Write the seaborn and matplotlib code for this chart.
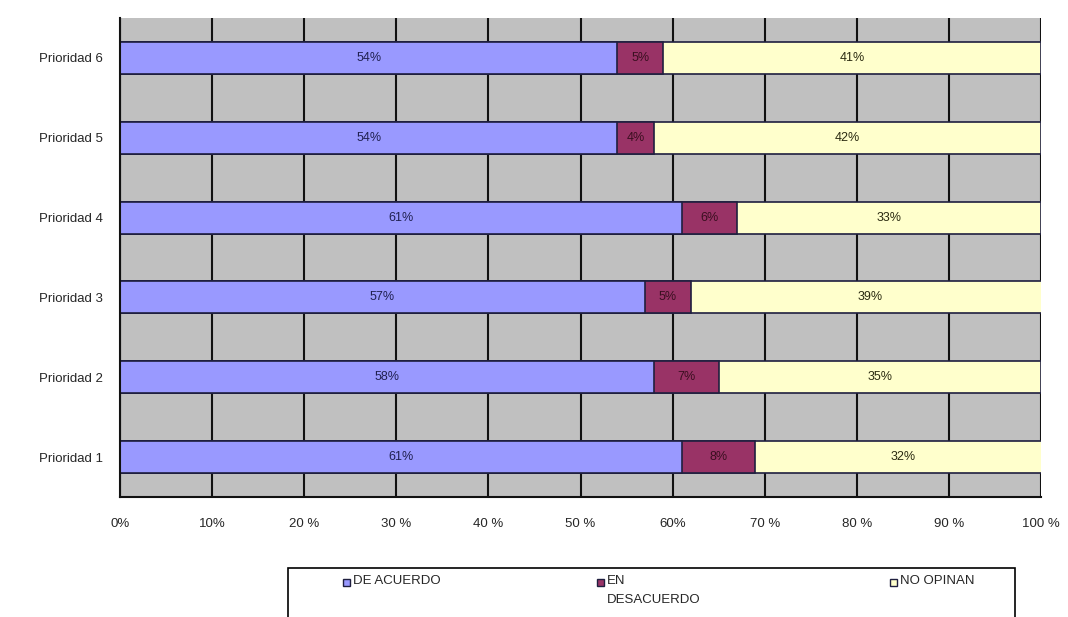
import numpy as np
import pandas as pd
import matplotlib
matplotlib.use("Agg")
import matplotlib.pyplot as plt
import seaborn as sns
from matplotlib.patches import Rectangle

# Data
categories = ["Prioridad 6", "Prioridad 5", "Prioridad 4", "Prioridad 3", "Prioridad 2", "Prioridad 1"]
de_acuerdo = [54, 54, 61, 57, 58, 61]
en_desacuerdo = [5, 4, 6, 5, 7, 8]
no_opinan = [41, 42, 33, 39, 35, 32]
xtick_labels = ["0%", "10%", "20 %", "30 %", "40 %", "50 %", "60%", "70 %", "80 %", "90 %", "100 %"]
legend_labels = ["DE ACUERDO", "EN\nDESACUERDO", "NO OPINAN"]

df = pd.DataFrame({
    "cat": categories,
    "acuerdo": de_acuerdo,
    "desacuerdo": en_desacuerdo,
    "noop": no_opinan,
})
df["cum2"] = df["acuerdo"] + df["desacuerdo"]
df["cum3"] = df["cum2"] + df["noop"]

sns.set_style("white")
plt.rcParams["font.family"] = ["Liberation Sans", "DejaVu Sans"]

c_blue = "#9999ff"
c_red = "#993366"
c_yellow = "#ffffcc"
edge = "#1f1f3f"

W, H = 1068, 617
fig = plt.figure(figsize=(W / 100, H / 100), dpi=100)
ax = fig.add_axes([120 / W, 1 - 497 / H, (1041 - 120) / W, (497 - 18) / H])
ax.set_facecolor("#c0c0c0")

# stacked bars by layering cumulative totals
for col, color in [("cum3", c_yellow), ("cum2", c_red), ("acuerdo", c_blue)]:
    sns.barplot(data=df, x=col, y="cat", order=categories, color=color, orient="h",
                width=0.4, edgecolor=edge, linewidth=1.2, saturation=1, ax=ax)

# segment labels
for i, row in df.iterrows():
    ax.text(row["acuerdo"] / 2, i, f"{row['acuerdo']}%", ha="center", va="center",
            fontsize=9, color="#202050")
    ax.text(row["acuerdo"] + row["desacuerdo"] / 2, i, f"{row['desacuerdo']}%", ha="center",
            va="center", fontsize=9, color="#3a0f20")
    ax.text(row["cum2"] + row["noop"] / 2, i, f"{row['noop']}%", ha="center", va="center",
            fontsize=9, color="#2a2a10")

ax.set_xlim(0, 100)
ax.set_ylim(5.46, -0.46)
ax.set_xticks(np.arange(0, 101, 10))
ax.set_xticklabels(xtick_labels, fontsize=9.5)
ax.set_xlabel("")
ax.set_ylabel("")
ax.tick_params(axis="y", length=0, labelsize=9.5, pad=12)
ax.set_yticks(np.arange(-0.5, 6, 1), minor=True)
ax.tick_params(axis="y", which="minor", length=5, width=1.2, color="black", direction="out")
ax.tick_params(axis="x", length=5, width=1.2, color="black", direction="out", pad=10)

ax.set_axisbelow(True)
ax.grid(axis="x", color="#111111", linewidth=1.5)
ax.grid(axis="y", visible=False)
for s in ["top", "right"]:
    ax.spines[s].set_visible(False)
for s in ["left", "bottom"]:
    ax.spines[s].set_color("#111111")
    ax.spines[s].set_linewidth(1.5)

# legend box (runs off the bottom edge like the original)
fig.add_artist(Rectangle((288 / W, 1 - 640 / H), (1015 - 288) / W, (640 - 568) / H,
                         transform=fig.transFigure, facecolor="white", edgecolor="black",
                         linewidth=1.2))
for x0, label, color in zip([343, 597, 890], legend_labels, [c_blue, c_red, c_yellow]):
    fig.add_artist(Rectangle((x0 / W, 1 - 586 / H), 7 / W, 7 / H, transform=fig.transFigure,
                             facecolor=color, edgecolor=edge, linewidth=1))
    fig.text((x0 + 10) / W, 1 - 575 / H, label, ha="left", va="top", fontsize=9.5,
             linespacing=1.75)

fig.savefig("out.png", dpi=100)
